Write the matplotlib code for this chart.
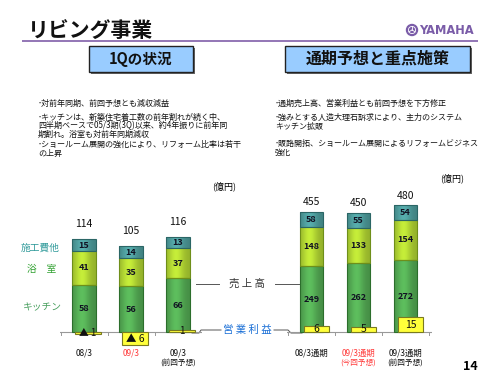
import matplotlib
matplotlib.use('Agg')
import matplotlib.pyplot as plt
import matplotlib.colors as mcolors
from matplotlib.patches import Rectangle, Circle
import numpy as np

plt.rcParams['font.family'] = ['Noto Sans CJK JP', 'DejaVu Sans']

# ---------------- data ----------------
left_periods = ['08/3', '09/3', '09/3']
left_notes = ['', '', '(前回予想)']
left_kitchen = [58, 56, 66]
left_bath = [41, 35, 37]
left_other = [15, 14, 13]
left_total = [114, 105, 116]
left_profit = [-1, -6, 1]

right_periods = ['08/3通期', '09/3通期', '09/3通期']
right_notes = ['', '(今回予想)', '(前回予想)']
right_kitchen = [249, 262, 272]
right_bath = [148, 133, 154]
right_other = [58, 55, 54]
right_total = [455, 450, 480]
right_profit = [6, 5, 15]

segment_names = ['キッチン', '浴　室', '施工費他']

title = 'リビング事業'
left_header = '1Qの状況'
right_header = '通期予想と重点施策'
left_bullets = [
    '･対前年同期、前回予想とも減収減益',
    '･キッチンは、新築住宅着工数の前年割れが続く中、',
    '四半期ベースで05/3期(3Q)以来、約4年振りに前年同',
    '期割れ。浴室も対前年同期減収',
    '･ショールーム展開の強化により、リフォーム比率は若干',
    'の上昇',
]
right_bullets = [
    '･通期売上高、営業利益とも前回予想を下方修正',
    '･強みとする人造大理石訴求により、主力のシステム',
    'キッチン拡販',
    '･販路開拓、ショールーム展開によるリフォームビジネス',
    '強化',
]

# ---------------- styles ----------------
C_KITCHEN = '#55ad55'
C_BATH = '#b4d834'
C_OTHER = '#4f9e9e'
C_PROFIT = '#ffff3a'
RED = '#ff3b3b'

fig = plt.figure(figsize=(5, 3.75), dpi=100)
bg = fig.add_axes([0, 0, 1, 1])
bg.set_xlim(0, 500)
bg.set_ylim(375, 0)
bg.axis('off')

# title, line, logo
bg.text(28, 30, title, fontsize=15, fontweight='bold', va='center', ha='left', color='#111111')
bg.plot([22, 478], [41, 41], color='#8a6bb0', lw=1.3, solid_capstyle='butt')
bg.add_patch(Circle((412, 30), 5.5, color='#7a5ca8'))
bg.add_patch(Circle((412, 30), 3.6, fill=False, ec='white', lw=0.6))
for a in (90, 210, 330):
    r = np.radians(a)
    bg.plot([412, 412 + 3.6 * np.cos(r)], [30, 30 - 3.6 * np.sin(r)], color='white', lw=0.6)
bg.text(419, 30.5, 'YAMAHA', family='DejaVu Sans', fontweight='bold', fontsize=8.3,
        color='#7a5ca8', va='center', ha='left')

# header boxes
for (x0, w, txt, fs) in [(89, 104, left_header, 10.5), (285, 185, right_header, 11.5)]:
    bg.add_patch(Rectangle((x0 + 1.5, 47.5), w, 26, fc='#666666', ec='none'))
    bg.add_patch(Rectangle((x0, 46), w, 26, fc='#99ccff', ec='#222222', lw=1.0))
    bg.text(x0 + w / 2, 59, txt, fontsize=fs, fontweight='bold', ha='center', va='center',
            color='#111111')

# bullets
for line, y in zip(left_bullets, [103, 117, 126, 134.5, 144, 153]):
    bg.text(38, y, line, fontsize=5.8, ha='left', va='center', color='#111111')
for line, y in zip(right_bullets, [103, 117, 126, 143, 152]):
    bg.text(275, y, line, fontsize=5.8, ha='left', va='center', color='#111111')

bg.text(224, 186, '(億円)', fontsize=6.5, ha='center', va='center')
bg.text(452, 178, '(億円)', fontsize=6.5, ha='center', va='center')

# segment legend labels (left side)
bg.text(40, 248, segment_names[2], fontsize=7, color='#2f9a9a', ha='center', va='center')
bg.text(42, 269, segment_names[1], fontsize=7, color='#2ea02e', ha='center', va='center')
bg.text(42, 307, segment_names[0], fontsize=7, color='#4aa060', ha='center', va='center')

# annotation lines
bg.plot([196, 219], [284, 284], color='#555555', lw=0.7)
bg.plot([275, 300], [284, 284], color='#555555', lw=0.7)
bg.text(247, 284, '売 上 高', fontsize=7.5, ha='center', va='center', color='#333333')
bg.plot([221, 201, 199, 192], [330, 330, 333, 333], color='#555555', lw=0.7)
bg.plot([274, 288, 291, 302], [330, 330, 333, 333], color='#555555', lw=0.7)
bg.text(247, 330, '営 業 利 益', fontsize=7.5, ha='center', va='center', color='#1a6fd6')

bg.text(470, 366, '14', fontsize=9, fontweight='bold', ha='center', va='center')


def shade(ax, container, color):
    base = np.array(mcolors.to_rgb(color))
    t = np.linspace(0, 1, 64)
    f = 0.82 + 0.28 * np.exp(-((t - 0.42) / 0.32) ** 2)
    img = np.clip(base[None, :] * f[:, None], 0, 1)[None, :, :]
    for p in container.patches:
        x, y, w, h = p.get_x(), p.get_y(), p.get_width(), p.get_height()
        im = ax.imshow(img, extent=[x, x + w, y, y + h], aspect='auto',
                       interpolation='bilinear', zorder=1)
        im.set_clip_path(p)
        p.set_facecolor('none')
        p.set_zorder(2)


def draw_chart(x0, x1, c0, sp, bw, s, ps, poff, kitchen, bath, other, total, profit,
               periods, notes, total_off):
    base_px, top_px, bot_px = 332, 180, 350
    ax = fig.add_axes([x0 / 500, 1 - bot_px / 375, (x1 - x0) / 500, (bot_px - top_px) / 375])
    ax.axis('off')
    xs = np.arange(len(kitchen))
    w = bw / sp
    ax.plot([(x0 - c0) / sp, (x1 - c0) / sp], [0, 0], color='#999999', lw=0.8, zorder=0.5)
    for tx in np.arange(-0.5, len(kitchen), 1.0):
        ax.plot([tx, tx], [0, -3 / s], color='#999999', lw=0.7, zorder=0.5)
    k = np.array(kitchen); b = np.array(bath); o = np.array(other)
    bk = ax.bar(xs, k, w, edgecolor='#2c6e2c', lw=0.8)
    bb = ax.bar(xs, b, w, bottom=k, edgecolor='#6f8f1a', lw=0.8)
    bo = ax.bar(xs, o, w, bottom=k + b, edgecolor='#2b6666', lw=0.8)
    shade(ax, bk, C_KITCHEN)
    shade(ax, bb, C_BATH)
    shade(ax, bo, C_OTHER)
    for vals, bottoms in [(k, 0 * k), (b, k), (o, k + b)]:
        for xi, v, bt in zip(xs, vals, bottoms):
            ax.text(xi, bt + v / 2, str(v), ha='center', va='center', fontsize=6.5,
                    fontweight='bold', color='#111122', zorder=5)
    for xi, t in zip(xs, total):
        ax.annotate(str(t), (xi, t), xytext=(0, total_off), textcoords='offset points',
                    ha='center', va='center', fontsize=7.5, color='#111111')
    ax.set_xlim((x0 - c0) / sp, (x1 - c0) / sp)
    ax.set_ylim(-(bot_px - base_px) / s, (base_px - top_px) / s)

    axp = ax.twinx()
    axp.axis('off')
    pv = np.array(profit)
    axp.bar(xs + poff / sp, pv, w * 1.05, color=C_PROFIT, edgecolor='#7a7a20', lw=0.8, zorder=3)
    for xi, v in zip(xs, pv):
        lbl = f'▲ {abs(v)}' if v < 0 else str(v)
        axp.text(xi + poff / sp, v / 2, lbl, ha='center', va='center',
                 fontsize=7.5 if abs(v) >= 5 else 7, color='#111111', zorder=5)
    axp.set_ylim(-(bot_px - base_px) / ps, (base_px - top_px) / ps)

    for i, (pname, note) in enumerate(zip(periods, notes)):
        cx = c0 + i * sp
        col = RED if i == 1 else '#111111'
        bg.text(cx, 353, pname, fontsize=6, ha='center', va='center', color=col)
        if note:
            bg.text(cx, 363, note, fontsize=5.5, ha='center', va='center', color=col)


draw_chart(60, 202, 84, 47, 24, 0.816, 2.2, 4, left_kitchen, left_bath, left_other,
           left_total, left_profit, left_periods, left_notes, 11)
draw_chart(287, 432, 311.5, 47, 23, 0.264, 1.0, 5, right_kitchen, right_bath, right_other,
           right_total, right_profit, right_periods, right_notes, 7)

fig.savefig('out.png', dpi=100)
